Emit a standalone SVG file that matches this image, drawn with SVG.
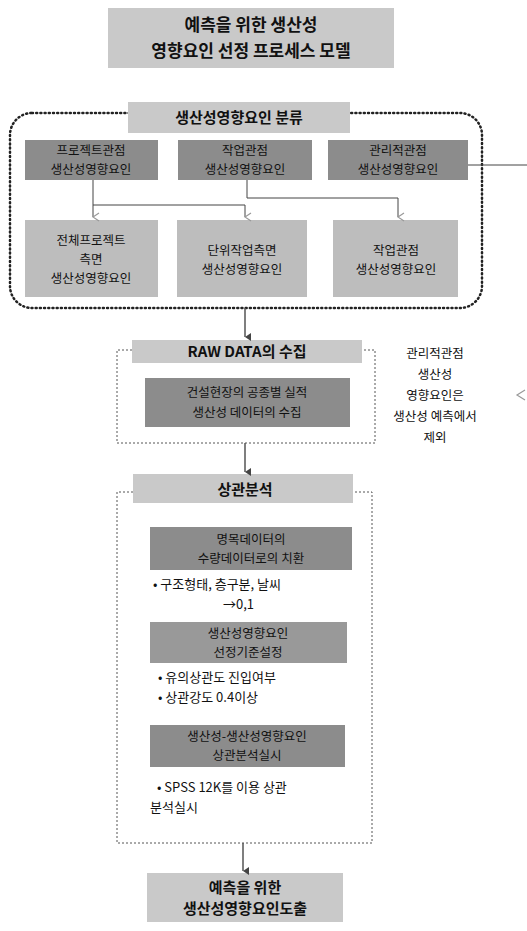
<svg xmlns="http://www.w3.org/2000/svg" width="527" height="931" viewBox="0 0 527 931">
<defs>
<style>
text{font-family:"Noto Sans CJK KR","Noto Sans",sans-serif;fill:#111;text-anchor:middle}
.t{font-size:17px;font-weight:bold}
.h{font-size:15px;font-weight:bold}
.b{font-size:12.5px}
.l{font-size:13px;text-anchor:start}
.light{fill:#c9c9c9}
.mid{fill:#bdbdbd}
.dark{fill:#8c8c8c}
.c{fill:none;stroke:#444;stroke-width:1}
.m{fill:none;stroke:#555;stroke-width:1.5}
.dash{fill:none;stroke:#555;stroke-width:1;stroke-dasharray:2,2}
</style>
<marker id="v" markerWidth="10" markerHeight="10" refX="5" refY="9" orient="auto" markerUnits="userSpaceOnUse" viewBox="0 0 10 10">
<polyline points="1,3 5,9 9,3" fill="none" stroke="#999" stroke-width="1.2"/>
</marker>
<marker id="f" markerWidth="8" markerHeight="8" refX="4" refY="7" orient="auto" markerUnits="userSpaceOnUse" viewBox="0 0 8 8">
<path d="M0,1 L4,7 L8,1 Z" fill="#444"/>
</marker>
</defs>

<g id="title">
<rect class="light" x="108" y="8" width="286" height="60"/>
<text class="t" x="251" y="31">예측을 위한 생산성</text>
<text class="t" x="251" y="57">영향요인 선정 프로세스 모델</text>
</g>

<g id="classify-frame">
<rect x="10" y="113" width="472" height="195" rx="22" ry="22" fill="none" stroke="#222" stroke-width="2.5" stroke-dasharray="1,3.2" stroke-linecap="round"/>
</g>
<g id="classify-header">
<rect class="light" x="128" y="102" width="222" height="31"/>
<text class="h" x="239" y="123">생산성영향요인 분류</text>
</g>

<g id="project-view">
<rect class="dark" x="25" y="140" width="133" height="40"/>
<text class="b" x="91" y="155">프로젝트관점</text>
<text class="b" x="91" y="174">생산성영향요인</text>
</g>
<g id="work-view">
<rect class="dark" x="178" y="140" width="134" height="40"/>
<text class="b" x="245" y="155">작업관점</text>
<text class="b" x="245" y="174">생산성영향요인</text>
</g>
<g id="mgmt-view">
<rect class="dark" x="328" y="140" width="140" height="40"/>
<text class="b" x="398" y="155">관리적관점</text>
<text class="b" x="398" y="174">생산성영향요인</text>
</g>

<g id="whole-project">
<rect class="mid" x="25" y="220" width="133" height="77"/>
<text class="b" x="91" y="245">전체프로젝트</text>
<text class="b" x="91" y="264">측면</text>
<text class="b" x="91" y="283">생산성영향요인</text>
</g>
<g id="unit-work">
<rect class="mid" x="177" y="220" width="130" height="77"/>
<text class="b" x="242" y="255">단위작업측면</text>
<text class="b" x="242" y="274">생산성영향요인</text>
</g>
<g id="work-factor">
<rect class="mid" x="333" y="220" width="125" height="77"/>
<text class="b" x="396" y="255">작업관점</text>
<text class="b" x="396" y="274">생산성영향요인</text>
</g>

<g id="raw-frame">
<path class="dash" d="M132,350 H117 V443 H375 V350 H362"/>
<rect class="light" x="132" y="340" width="230" height="23"/>
<text class="h" x="247" y="357">RAW DATA의 수집</text>
</g>
<g id="raw-collect">
<rect class="dark" x="145" y="378" width="205" height="49"/>
<text class="b" x="247" y="397">건설현장의 공종별 실적</text>
<text class="b" x="247" y="417">생산성 데이터의 수집</text>
</g>

<g id="exclude-note">
<text class="b" x="435" y="358">관리적관점</text>
<text class="b" x="435" y="379">생산성</text>
<text class="b" x="435" y="400">영향요인은</text>
<text class="b" x="435" y="421">생산성 예측에서</text>
<text class="b" x="435" y="442">제외</text>
</g>

<g id="corr-frame">
<path class="dash" d="M133,492 H117 V843 H372 V492 H353"/>
<rect class="light" x="133" y="474" width="220" height="29"/>
<text class="h" x="245" y="495">상관분석</text>
</g>
<g id="nominal">
<rect class="dark" x="150" y="527" width="202" height="43"/>
<text class="b" x="251" y="544">명목데이터의</text>
<text class="b" x="251" y="563">수량데이터로의 치환</text>
<text class="l" x="153" y="589">• 구조형태, 층구분, 날씨</text>
<text class="l" x="223" y="609">→0,1</text>
</g>
<g id="criteria">
<rect x="150" y="622" width="197" height="41" fill="#999"/>
<text class="b" x="248" y="638">생산성영향요인</text>
<text class="b" x="248" y="657">선정기준설정</text>
<text class="l" x="158" y="682">• 유의상관도 진입여부</text>
<text class="l" x="158" y="702">• 상관강도 0.4이상</text>
</g>
<g id="analysis">
<rect class="dark" x="150" y="725" width="195" height="42"/>
<text class="b" x="247" y="741">생산성-생산성영향요인</text>
<text class="b" x="247" y="760">상관분석실시</text>
<text class="l" x="157" y="792">• SPSS 12K를 이용 상관</text>
<text class="l" x="150" y="812">분석실시</text>
</g>

<g id="result">
<rect class="light" x="147" y="873" width="196" height="49"/>
<text class="h" x="245" y="893">예측을 위한</text>
<text class="h" x="245" y="914">생산성영향요인도출</text>
</g>

<g id="connectors">
<path class="c" d="M93,180 V205 H245 V217" marker-end="url(#v)"/>
<path class="c" d="M93,205 V217" marker-end="url(#v)"/>
<path class="c" d="M247,180 V198 H398 V217" marker-end="url(#v)"/>
<path class="c" d="M468,165 H527"/>
<polyline points="525,390 517,395 525,400" fill="none" stroke="#999" stroke-width="1.2"/>
<path class="m" d="M245,308 V337" marker-end="url(#f)"/>
<path class="m" d="M245,443 V472" marker-end="url(#f)"/>
<path class="m" d="M243,843 V871" marker-end="url(#f)"/>
</g>
</svg>
